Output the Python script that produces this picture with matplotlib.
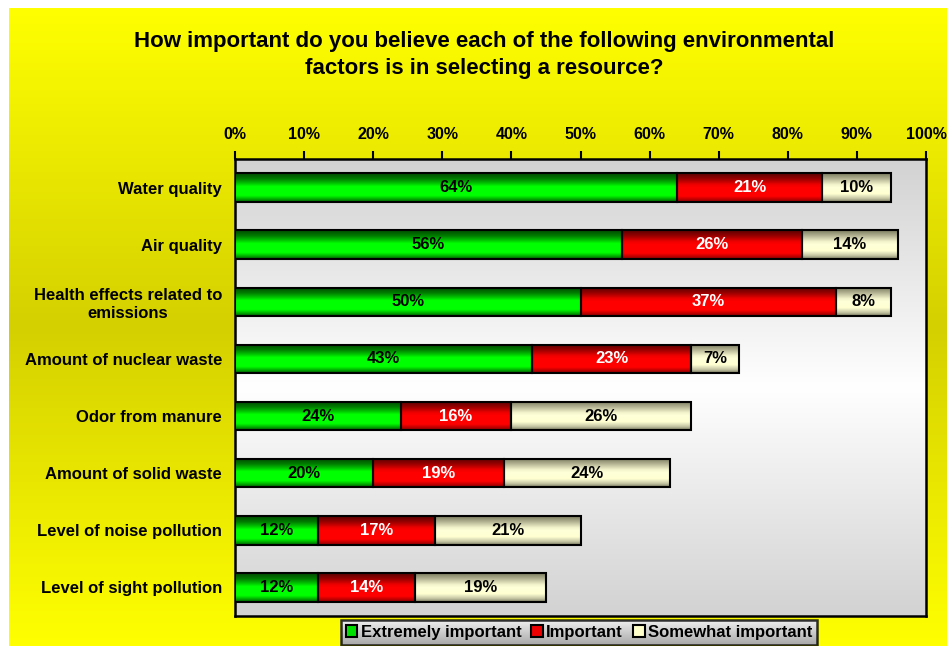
import numpy as np
import matplotlib
matplotlib.use("Agg")
import matplotlib.pyplot as plt
from matplotlib.colors import LinearSegmentedColormap
from matplotlib.patches import Patch

# ---------------- data ----------------
categories = [
    "Water quality",
    "Air quality",
    "Health effects related to\nemissions",
    "Amount of nuclear waste",
    "Odor from manure",
    "Amount of solid waste",
    "Level of noise pollution",
    "Level of sight pollution",
]
extremely = [64, 56, 50, 43, 24, 20, 12, 12]
important = [21, 26, 37, 23, 16, 19, 17, 14]
somewhat = [10, 14, 8, 7, 26, 24, 21, 19]
series_names = ["Extremely important", "Important", "Somewhat important"]
tick_values = list(range(0, 101, 10))
tick_labels = [f"{v}%" for v in tick_values]
title = ("How important do you believe each of the following environmental\n"
         "factors is in selecting a resource?")

plt.rcParams["font.family"] = ["Liberation Sans", "DejaVu Sans"]
plt.rcParams["font.weight"] = "bold"

W, H = 947, 646
fig = plt.figure(figsize=(W / 100, H / 100), dpi=100)
fig.patch.set_facecolor("white")

grad = np.linspace(0, 1, 256).reshape(-1, 1)

# ---------------- figure background gradient ----------------
bg = fig.add_axes([9 / W, 0, 1 - 9 / W, 1 - 8 / H], zorder=-10)
bg_cmap = LinearSegmentedColormap.from_list(
    "bgy", [(0.0, "#ffff00"), (0.5, "#d4d000"), (1.0, "#ffff00")])
bg.imshow(grad, aspect="auto", cmap=bg_cmap, extent=[0, 1, 0, 1],
          origin="upper", interpolation="bilinear")
bg.set_axis_off()

# ---------------- main axes ----------------
x0, x1, y0, y1 = 235, 926, 159, 616
ax = fig.add_axes([x0 / W, 1 - y1 / H, (x1 - x0) / W, (y1 - y0) / H])
n = len(categories)

pa_cmap = LinearSegmentedColormap.from_list(
    "pa", [(0.0, "#d2d2d2"), (0.5, "#ffffff"), (1.0, "#d2d2d2")])
ax.imshow(grad, aspect="auto", cmap=pa_cmap, extent=[0, 100, n - 0.5, -0.5],
          origin="upper", interpolation="bilinear", zorder=0)

green_cmap = LinearSegmentedColormap.from_list(
    "g", [(0.0, "#004800"), (0.2, "#007c00"), (0.36, "#00c800"),
          (0.46, "#00ff00"), (0.78, "#00ff00"), (0.9, "#00aa00"),
          (1.0, "#005800")])
red_cmap = LinearSegmentedColormap.from_list(
    "r", [(0.0, "#580000"), (0.2, "#980000"), (0.4, "#f00000"),
          (0.5, "#ff0000"), (0.8, "#ff0000"), (0.92, "#b80000"),
          (1.0, "#880000")])
cream_cmap = LinearSegmentedColormap.from_list(
    "c", [(0.0, "#78785e"), (0.2, "#b4b494"), (0.4, "#f4f4cc"),
          (0.5, "#ffffd8"), (0.72, "#ffffd2"), (0.88, "#c4c4a4"),
          (1.0, "#78785e")])

series = [extremely, important, somewhat]
cmaps = [green_cmap, red_cmap, cream_cmap]
text_colors = ["black", "white", "black"]

ypos = np.arange(n)
left = np.zeros(n)
for vals, cm, tc in zip(series, cmaps, text_colors):
    vals = np.array(vals, dtype=float)
    bars = ax.barh(ypos, vals, left=left, height=0.5, facecolor="none",
                   edgecolor="black", linewidth=1.5, zorder=4)
    for b, v in zip(bars, vals):
        bx, by, bw, bh = b.get_x(), b.get_y(), b.get_width(), b.get_height()
        ax.imshow(grad, aspect="auto", cmap=cm,
                  extent=[bx, bx + bw, by + bh, by], origin="upper",
                  interpolation="bilinear", zorder=3)
        ax.text(bx + bw / 2, by + bh / 2, f"{int(v)}%", ha="center",
                va="center", color=tc, fontsize=12, fontweight="bold",
                zorder=5)
    left = left + vals

ax.set_xlim(0, 100)
ax.set_ylim(n - 0.5, -0.5)

# axes styling
ax.xaxis.tick_top()
ax.set_xticks(tick_values)
ax.set_xticklabels(tick_labels, fontsize=11.5, fontweight="bold")
ax.tick_params(axis="x", direction="out", length=6, width=1.5, pad=6)
ax.set_yticks(ypos)
ax.set_yticklabels(categories, fontsize=12, fontweight="bold")
for lbl in ax.get_yticklabels():
    lbl.set_multialignment("center")
    lbl.set_linespacing(1.2)
ax.tick_params(axis="y", length=0, pad=9.4)
for s in ax.spines.values():
    s.set_linewidth(1.8)
    s.set_color("black")

# title
fig.text(484 / W, 1 - 55 / H, title, ha="center", va="center",
         fontsize=16, fontweight="bold", linespacing=1.4)

# legend
handles = [Patch(facecolor=c, edgecolor="black", linewidth=1.5)
           for c in ["#00e000", "#ee0000", "#ffffcc"]]
leg = fig.legend(handles, series_names, loc="center",
                 bbox_to_anchor=(579 / W, 1 - 632.5 / H), ncol=3,
                 frameon=True, fancybox=False, edgecolor="black",
                 facecolor="none", framealpha=None,
                 prop={"size": 12, "weight": "bold"},
                 handlelength=0.7, handleheight=0.7, handletextpad=0.2,
                 columnspacing=0.6, borderpad=0.3, borderaxespad=0)
leg.get_frame().set_linewidth(1.8)
leg.set_zorder(10)

# gradient backdrop for the legend box
fig.canvas.draw()
bb = leg.get_window_extent().transformed(fig.transFigure.inverted())
lax = fig.add_axes([bb.x0, bb.y0, bb.width, bb.height], zorder=5)
leg_cmap = LinearSegmentedColormap.from_list("lg", ["#f2f2f2", "#a8a8a8"])
lax.imshow(grad, aspect="auto", cmap=leg_cmap, extent=[0, 1, 0, 1],
           origin="upper", interpolation="bilinear")
lax.set_axis_off()

fig.savefig("out.png", dpi=100)
